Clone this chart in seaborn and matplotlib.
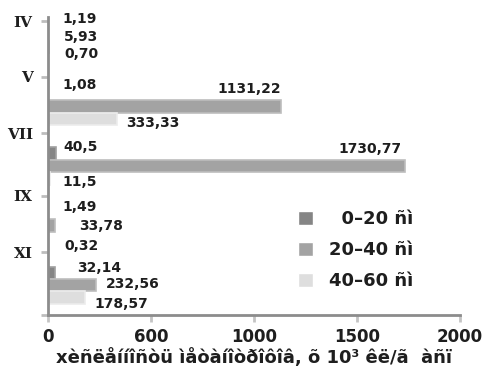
import numpy as np
import pandas as pd
import matplotlib
matplotlib.use('Agg')
import matplotlib.pyplot as plt
import seaborn as sns

# months (categories, top to bottom) and values per soil depth layer
months = ['IV', 'V', 'VII', 'IX', 'XI']
depths = ['\u20070\u201320 ñì', '20\u201340 ñì', '40\u201360 ñì']
d0_20 = [1.19, 1.08, 40.5, 1.49, 32.14]
d20_40 = [5.93, 1131.22, 1730.77, 33.78, 232.56]
d40_60 = [0.70, 333.33, 11.5, 0.32, 178.57]
value_text = [
    ['1,19', '1,08', '40,5', '1,49', '32,14'],
    ['5,93', '1131,22', '1730,77', '33,78', '232,56'],
    ['0,70', '333,33', '11,5', '0,32', '178,57'],
]
xtick_vals = [0, 500, 1000, 1500, 2000]
xtick_text = ['0', '600', '1000', '1500', '2000']
xlabel = 'xèñëåííîñòü ìåòàíîòðîôîâ, õ 10³ êë/ã  àñï'

# label offsets in pixels (dx from bar end, dy from bar centre, alignment)
label_off = [
    [(14, -15, 'left'), (14, -9, 'left'), (7, -7, 'left'), (14, -6, 'left'), (23, -5, 'left')],
    [(15, -10, 'left'), (0, -17, 'right'), (-3, -17, 'right'), (24, 0, 'left'), (10, -1, 'left')],
    [(16, -5, 'left'), (9, 4, 'left'), (12, 4, 'left'), (16, 8, 'left'), (10, 6, 'left')],
]

colors = ['#858585', '#a3a3a3', '#dedede']
edge = ['#a0a0a0', '#bdbdbd', '#ececec']

sns.set_theme(style='white')
plt.rcParams['font.family'] = ['DejaVu Sans']
plt.rcParams['font.weight'] = 'bold'

rows = []
for m, a, b, c in zip(months, d0_20, d20_40, d40_60):
    rows.append({'month': m, 'depth': depths[0], 'value': a})
    rows.append({'month': m, 'depth': depths[1], 'value': b})
    rows.append({'month': m, 'depth': depths[2], 'value': c})
df = pd.DataFrame(rows)

fig = plt.figure(figsize=(4.83, 3.69), dpi=100)
ax = fig.add_axes([48 / 483, 54 / 369, 412 / 483, 298 / 369])

sns.barplot(data=df, y='month', x='value', hue='depth', orient='h',
            order=months, hue_order=depths, palette=colors, width=0.625,
            saturation=1, ax=ax)

for k, cont in enumerate(ax.containers):
    for j, bar in enumerate(cont):
        bar.set_edgecolor(edge[k])
        bar.set_linewidth(1.2)
        dx, dy, ha = label_off[k][j]
        ax.annotate(value_text[k][j],
                    xy=(bar.get_width(), bar.get_y() + bar.get_height() / 2),
                    xytext=(dx, -dy), textcoords='offset pixels',
                    ha=ha, va='center', fontsize=10, fontweight='bold',
                    color='#1e1e1e', annotation_clip=False)

ax.set_xlim(0, 2000)
ax.set_ylim(4.5, -0.5)
ax.set_xticks(xtick_vals)
ax.set_xticklabels(xtick_text, fontsize=12, fontweight='bold', color='#1e1e1e')
ax.set_yticks([-0.43, 0.5, 1.45, 2.5, 3.45, 4.5])
ax.set_yticklabels(months + [''], family='DejaVu Serif', fontsize=11,
                   fontweight='heavy', color='#1e1e1e')
ax.set_ylabel('')
ax.set_xlabel(xlabel, fontsize=13, fontweight='bold', color='#1e1e1e', labelpad=2)

for s in ['top', 'right']:
    ax.spines[s].set_visible(False)
for s in ['left', 'bottom']:
    ax.spines[s].set_color('#8c8c8c')
    ax.spines[s].set_linewidth(2)
ax.tick_params(axis='x', bottom=True, direction='out', length=5, width=2, color='#c4c4c4', pad=4)
ax.tick_params(axis='y', left=True, direction='out', length=5, width=2, color='#bdbdbd', pad=6)

handles, labels = ax.get_legend_handles_labels()
leg = ax.legend(handles, labels, loc='upper left', bbox_to_anchor=(282 / 483, 1 - 194 / 369),
                bbox_transform=fig.transFigure, frameon=False, fontsize=13,
                handlelength=0.8, handleheight=0.8, handletextpad=0.9, labelspacing=0.72)
for t in leg.get_texts():
    t.set_fontweight('bold')
    t.set_color('#1e1e1e')

fig.savefig('out.png', dpi=100)
